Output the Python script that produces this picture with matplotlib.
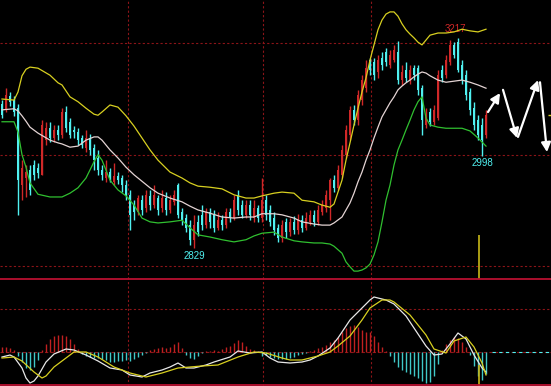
import matplotlib
matplotlib.use("Agg")
import matplotlib.pyplot as plt
from matplotlib.lines import Line2D
import numpy as np

# ============================================================
# === DATA (one entry per session)
# ============================================================

opens = [3095, 3084, 3110, 3102, 3087, 2945, 2958, 2973, 2982, 2977,
         2964, 3028, 3050, 3032, 3047, 3038, 3080, 3062, 3047, 3043,
         3032, 3014, 3032, 3014, 2995, 2973, 2958, 2969, 2951, 2962,
         2958, 2945, 2927, 2908, 2895, 2917, 2903, 2925, 2908, 2921,
         2903, 2921, 2899, 2914, 2945, 2895, 2884, 2871, 2844, 2877,
         2890, 2871, 2895, 2890, 2866, 2880, 2871, 2895, 2884, 2927,
         2908, 2890, 2908, 2884, 2903, 2884, 2917, 2899, 2884, 2866,
         2847, 2877, 2858, 2877, 2862, 2880, 2866, 2877, 2890, 2877,
         2895, 2903, 2917, 2954, 2940, 2964, 3001, 3038, 3084, 3065,
         3102, 3124, 3176, 3172, 3154, 3180, 3191, 3167, 3176, 3191,
         3139, 3158, 3139, 3161, 3161, 3124, 3056, 3080, 3062, 3069,
         3158, 3148, 3172, 3204, 3209, 3167, 3148, 3117, 3087, 3065,
         3056, 3038]

highs = [3102, 3124, 3117, 3110, 3095, 2991, 2982, 2982, 2991, 2986,
         3065, 3062, 3062, 3056, 3056, 3087, 3091, 3069, 3054, 3050,
         3038, 3047, 3039, 3021, 3010, 2982, 2991, 2977, 2986, 2969,
         2964, 2954, 2936, 2917, 2927, 2927, 2936, 2936, 2945, 2927,
         2936, 2932, 2927, 2936, 2949, 2903, 2892, 2880, 2890, 2890,
         2908, 2903, 2903, 2899, 2895, 2890, 2903, 2903, 2927, 2936,
         2917, 2917, 2917, 2917, 2908, 2958, 2927, 2908, 2895, 2873,
         2880, 2884, 2884, 2888, 2892, 2890, 2895, 2899, 2899, 2908,
         2917, 2936, 2958, 2964, 2982, 3019, 3056, 3091, 3093, 3121,
         3148, 3176, 3180, 3180, 3185, 3191, 3198, 3195, 3204, 3212,
         3167, 3172, 3167, 3167, 3167, 3130, 3087, 3087, 3093, 3158,
         3167, 3185, 3213, 3209, 3217, 3176, 3158, 3124, 3099, 3074,
         3069, 3084]

lows = [3069, 3080, 3091, 3073, 2890, 2917, 2923, 2927, 2954, 2958,
        2964, 3019, 3025, 3025, 3028, 3032, 3043, 3032, 3032, 3019,
        3014, 3006, 3001, 2973, 2964, 2954, 2951, 2951, 2945, 2947,
        2932, 2917, 2862, 2880, 2890, 2890, 2895, 2899, 2903, 2890,
        2895, 2890, 2893, 2908, 2884, 2871, 2858, 2834, 2829, 2851,
        2862, 2866, 2866, 2858, 2862, 2862, 2866, 2877, 2880, 2890,
        2884, 2884, 2880, 2877, 2877, 2877, 2880, 2869, 2853, 2840,
        2840, 2847, 2851, 2855, 2855, 2858, 2862, 2871, 2869, 2871,
        2890, 2895, 2880, 2932, 2936, 2958, 2995, 3028, 3056, 3056,
        3093, 3117, 3148, 3139, 3143, 3158, 3165, 3161, 3172, 3132,
        3130, 3135, 3132, 3139, 3111, 3038, 3050, 3054, 3056, 3065,
        3135, 3143, 3167, 3180, 3154, 3132, 3102, 3074, 3047, 3028,
        2998, 3032]

closes = [3074, 3111, 3099, 3080, 2954, 2977, 2969, 2936, 2964, 2967,
          3056, 3050, 3032, 3047, 3038, 3080, 3050, 3038, 3043, 3028,
          3019, 3032, 3010, 2991, 2973, 2964, 2969, 2958, 2962, 2954,
          2945, 2927, 2890, 2895, 2921, 2899, 2927, 2908, 2927, 2899,
          2921, 2899, 2917, 2927, 2890, 2880, 2866, 2844, 2871, 2858,
          2871, 2895, 2877, 2866, 2880, 2871, 2895, 2884, 2917, 2899,
          2890, 2908, 2890, 2903, 2884, 2917, 2890, 2877, 2862, 2847,
          2871, 2858, 2877, 2862, 2880, 2866, 2884, 2890, 2877, 2899,
          2908, 2927, 2954, 2940, 2973, 3010, 3047, 3084, 3065, 3111,
          3139, 3161, 3158, 3148, 3176, 3167, 3172, 3185, 3195, 3139,
          3154, 3143, 3158, 3148, 3121, 3065, 3074, 3062, 3084, 3148,
          3143, 3176, 3204, 3185, 3158, 3139, 3111, 3084, 3056, 3038,
          3028, 3074]

# Bollinger bands, read at these candle positions
band_idx = [0, 3, 4, 5, 6, 7, 9, 12, 14, 15, 17, 19, 21, 23, 24, 25, 27, 29,
            31, 33, 35, 37, 39, 42, 45, 47, 49, 52, 55, 58, 61, 63, 65, 68,
            70, 73, 75, 78, 80, 82, 83, 85, 86, 87, 88, 89, 90, 91, 92, 93,
            94, 95, 96, 97, 98, 99, 100, 101, 102, 103, 104, 105, 106, 107,
            109, 111, 113, 115, 117, 119, 121]
boll_upper = [3104, 3102, 3117, 3147, 3159, 3163, 3161, 3148, 3134, 3130,
              3108, 3099, 3087, 3076, 3074, 3080, 3093, 3089, 3073, 3054,
              3032, 3010, 2991, 2969, 2958, 2949, 2943, 2941, 2938, 2927,
              2921, 2921, 2925, 2930, 2932, 2930, 2917, 2914, 2908, 2904,
              2910, 2954, 2991, 3023, 3056, 3087, 3117, 3143, 3176, 3204,
              3232, 3250, 3261, 3265, 3265, 3257, 3243, 3232, 3224, 3217,
              3209, 3204, 3213, 3222, 3226, 3226, 3228, 3233, 3230, 3228,
              3233]
boll_mid = [3084, 3086, 3082, 3073, 3063, 3052, 3041, 3028, 3023, 3021,
            3015, 3017, 3028, 3034, 3034, 3028, 3010, 2995, 2978, 2964,
            2952, 2940, 2930, 2921, 2914, 2906, 2899, 2893, 2886, 2884,
            2886, 2886, 2892, 2892, 2890, 2884, 2877, 2873, 2871, 2871,
            2875, 2886, 2899, 2912, 2930, 2951, 2969, 2991, 3010, 3032,
            3052, 3071, 3084, 3097, 3108, 3121, 3128, 3134, 3139, 3145,
            3150, 3154, 3152, 3147, 3139, 3135, 3137, 3139, 3135, 3130,
            3124]
boll_lower = [3062, 3062, 3043, 3001, 2978, 2949, 2928, 2923, 2923, 2923,
              2930, 2940, 2958, 2988, 3001, 2991, 2954, 2936, 2925, 2908,
              2884, 2877, 2875, 2877, 2880, 2866, 2853, 2849, 2844, 2840,
              2844, 2851, 2856, 2858, 2849, 2842, 2840, 2838, 2838, 2836,
              2832, 2819, 2803, 2794, 2786, 2786, 2788, 2792, 2799, 2816,
              2840, 2877, 2917, 2945, 2982, 3010, 3028, 3047, 3065, 3084,
              3099, 3108, 3069, 3056, 3052, 3050, 3050, 3050, 3045, 3032,
              3017]

# MACD
macd_hist = [5, 5, 4, 2, -4, -10, -16, -18, -15, -8,
             2, 8, 13, 16, 17, 17, 16, 13, 8, 3,
             -2, -4, -5, -6, -6, -7, -8, -10, -10, -9,
             -9, -8, -9, -7, -5, -3, -1, 2, 3, 4,
             5, 4, 5, 8, 10, 4, -3, -6, -7, -4,
             -1, 1, 1, 2, 1, 3, 5, 6, 9, 12,
             10, 6, 3, 2, 1, -4, -3, -5, -6, -7,
             -7, -7, -6, -5, -3, -2, -1, 1, 2, 4,
             5, 7, 10, 12, 15, 20, 24, 26, 27, 25,
             22, 20, 20, 16, 10, 5, 1, -4, -10, -15,
             -18, -20, -22, -24, -26, -29, -31, -30, -24, -12,
             2, 8, 12, 15, 14, 10, 5, -3, -14, -24,
             -28, -22]
dif_idx = [0, 2, 3, 5, 6, 7, 8, 9, 10, 11, 13, 16, 18, 21, 24, 27, 30, 32,
           35, 37, 40, 42, 44, 46, 48, 51, 53, 57, 59, 62, 65, 67, 69, 72,
           75, 77, 79, 82, 84, 86, 87, 90, 92, 93, 96, 98, 101, 103, 106,
           108, 110, 112, 114, 116, 118, 120, 121]
dif = [-5, -3, -5, -16, -26, -31, -29, -24, -17, -10, -2, 3, 2, -3, -9, -16,
       -18, -23, -25, -21, -18, -15, -11, -16, -16, -13, -10, -5, 1, -1, 0,
       -6, -10, -11, -10, -8, -4, 4, 14, 26, 32, 44, 52, 55, 52, 48, 36, 24,
       6, -3, -2, 8, 19, 13, -3, -16, -20]
dea_idx = [0, 3, 5, 8, 10, 11, 13, 16, 18, 21, 24, 28, 32, 36, 40, 44, 50,
           54, 59, 63, 66, 70, 72, 75, 79, 82, 84, 87, 90, 92, 95, 97, 98,
           102, 106, 108, 111, 113, 116, 118, 120, 121]
dea = [-6, -5, -9, -20, -26, -24, -15, -6, 0, 0, -5, -15, -21, -25, -21, -16,
       -14, -13, -5, 0, -1, -6, -8, -8, -4, 0, 6, 16, 32, 44, 52, 52, 50, 37,
       17, 3, -1, 11, 15, 5, -11, -23]

# projected swings (white arrows), (candle index, price)
arrow_from = [(121.5, 3080), (125.25, 3121), (129.0, 3034), (134.5, 3135)]
arrow_to = [(124.5, 3115), (128.75, 3032), (134.0, 3139), (136.25, 3006)]

# ============================================================
# === STYLE / LAYOUT
# ============================================================

RED = "#d02828"
CYAN = "#50f0f0"
GRID = "#8c1418"
SEP = "#b81030"
YEL = "#d8d020"

W, H = 551, 386
MAIN_H = 279

fig = plt.figure(figsize=(W / 100, H / 100), dpi=100)
fig.patch.set_facecolor("black")

ax = fig.add_axes([0, 1 - MAIN_H / H, 1, MAIN_H / H])
axm = fig.add_axes([0, 0, 1, (H - MAIN_H) / H])
for a in (ax, axm):
    a.set_facecolor("black")
    a.set_axis_off()
    a.set_xlim(-0.5, W / 4 - 0.5)

ax.set_ylim(3287 - 1.848 * MAIN_H, 3287)
axm.set_ylim(352 - H, 352 - MAIN_H)

# grid
for p in (3208, 3001, 2795):
    ax.axhline(p, color=GRID, lw=0.8, ls=(0, (2, 2)), zorder=0)
axm.axhline(43, color=GRID, lw=0.8, ls=(0, (2, 2)), zorder=0)
axm.axhline(0, color=GRID, lw=0.8, ls=(0, (3, 2)), zorder=0)
for xv in (31.5, 65.25, 92.25):
    ax.axvline(xv, color=GRID, lw=0.8, ls=(0, (2, 2)), zorder=0)
    axm.axvline(xv, color=GRID, lw=0.8, ls=(0, (2, 2)), zorder=0)

# ============================================================
# === CANDLES + BOLL
# ============================================================

x = np.arange(len(closes))
o, h, l, c = (np.array(v, dtype=float) for v in (opens, highs, lows, closes))
cols = np.where(c >= o, RED, CYAN)

ax.vlines(x, l, h, colors=cols, lw=1.0, zorder=2)
ax.bar(x, np.maximum(np.abs(c - o), 1.5), bottom=np.minimum(o, c),
       width=0.62, color=cols, linewidth=0, zorder=3)

ax.plot(band_idx, boll_upper, color=YEL, lw=0.9, zorder=4)
ax.plot(band_idx, boll_mid, color="#e4d4d4", lw=0.9, zorder=4)
ax.plot(band_idx, boll_lower, color="#30c030", lw=0.9, zorder=4)

# extreme labels
hi = int(np.argmax(h))
ax.annotate(f"{h[hi]:.0f}", (hi, h[hi]), xytext=(-2, 3), textcoords="offset points",
            color=RED, fontsize=7, ha="center", va="bottom", family="Liberation Sans")
lo = int(np.argmin(l))
ax.annotate(f"{l[lo]:.0f}", (lo, l[lo]), xytext=(0, -2), textcoords="offset points",
            color=CYAN, fontsize=7, ha="center", va="top", family="Liberation Sans")
lo2 = 100 + int(np.argmin(l[100:]))
ax.annotate(f"{l[lo2]:.0f}", (lo2, l[lo2]), xytext=(0, -1), textcoords="offset points",
            color=CYAN, fontsize=7, ha="center", va="top", family="Liberation Sans")

# last price tick at right edge, marker line
ax.hlines(c[-1], W / 4 - 1.3, W / 4 - 0.5, colors=YEL, lw=1.0)
ax.vlines(119.25, 2771, 2853, colors="#c8b818", lw=1.2, zorder=5)
axm.vlines(119.25, 352 - H, -13, colors="#c8b818", lw=1.2, zorder=5)

for (x0, y0), (x1, y1) in zip(arrow_from, arrow_to):
    ax.annotate("", xy=(x1, y1), xytext=(x0, y0),
                arrowprops=dict(arrowstyle="-|>,head_length=0.55,head_width=0.28",
                                color="white", lw=1.6, shrinkA=0, shrinkB=0))

# ============================================================
# === MACD
# ============================================================

hv = np.array(macd_hist, dtype=float)
axm.vlines(x, 0, hv, colors=np.where(hv >= 0, "#c02020", "#40c8c8"), lw=1.0, zorder=2)
axm.hlines(0, len(closes) + 0.5, W / 4 - 0.5, colors=CYAN, lw=0.8,
           linestyles=(0, (3, 3)), zorder=1)
axm.plot(dif_idx, dif, color="#e8e8e8", lw=0.9, zorder=3)
axm.plot(dea_idx, dea, color=YEL, lw=0.9, zorder=3)

# panel separators
fig.add_artist(Line2D([0, 1], [1 - MAIN_H / H] * 2, color=SEP, lw=1.3))
fig.add_artist(Line2D([0, 1], [0.002, 0.002], color=SEP, lw=1.3))

fig.savefig("out.png", dpi=100, facecolor="black")
